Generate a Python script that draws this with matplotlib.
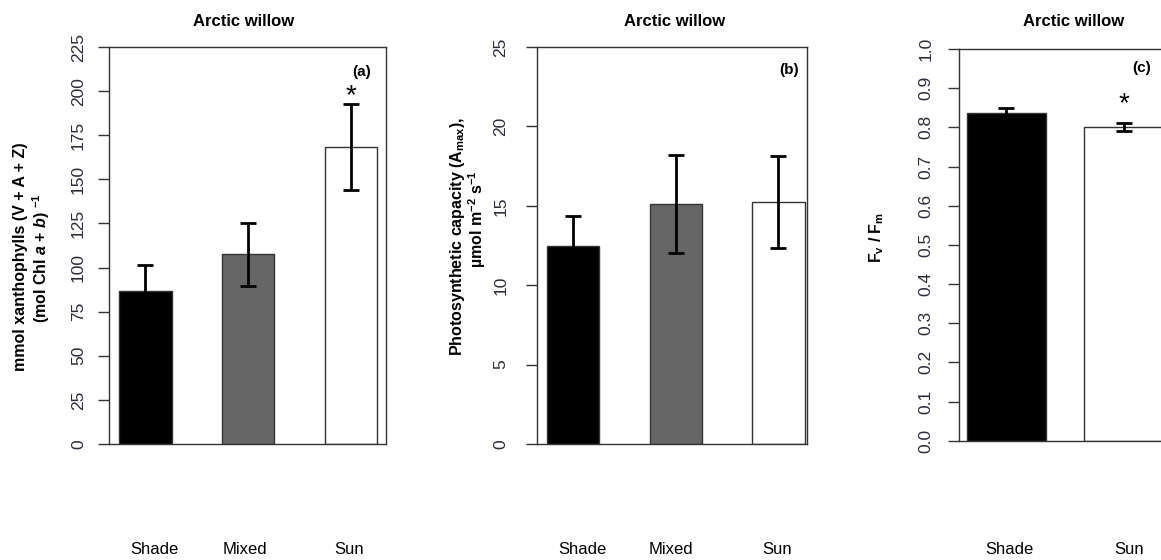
import matplotlib
matplotlib.use("Agg")
import matplotlib.pyplot as plt
import matplotlib.transforms as mtransforms

plt.rcParams['font.family'] = ['Liberation Sans', 'DejaVu Sans']
plt.rcParams['mathtext.fontset'] = 'custom'
plt.rcParams['mathtext.rm'] = 'Liberation Sans:bold'
plt.rcParams['mathtext.it'] = 'Liberation Sans:italic:bold'
plt.rcParams['mathtext.bf'] = 'Liberation Sans:bold'

# --- data ---
groups_abc = ['Shade', 'Mixed', 'Sun']
groups_c = ['Shade', 'Sun']

xanth_mean = [86.7, 107.5, 168.5]
xanth_err = [15.0, 18.0, 24.3]

amax_mean = [12.45, 15.1, 15.25]
amax_err = [1.9, 3.1, 2.9]

fvfm_mean = [0.837, 0.801]
fvfm_err = [0.013, 0.011]

bar_colors_abc = ['#000000', '#666666', '#ffffff']
bar_colors_c = ['#000000', '#ffffff']

TICK_COLOR = '#2b2b3b'
W, H = 1161, 560


def px_axes(fig, left, top, right, bottom):
    """Add axes given pixel edges (origin top-left)."""
    return fig.add_axes([left / W, 1 - bottom / H, (right - left) / W, (bottom - top) / H])


def draw_panel(ax, means, errs, colors, width, xlim, ylim, yticks, yticklabels, pad):
    x = list(range(len(means)))
    ax.bar(x, means, width=width, color=colors, edgecolor='#333333', linewidth=1.0, zorder=2)
    ax.errorbar(x, means, yerr=errs, fmt='none', ecolor='black', elinewidth=2.0,
                capsize=6, capthick=2.0, zorder=3)
    ax.set_xlim(*xlim)
    ax.set_ylim(*ylim)
    ax.set_xticks([])
    ax.set_yticks(yticks)
    ax.set_yticklabels(yticklabels, rotation=90, va='center', fontsize=12.5, color=TICK_COLOR)
    ax.tick_params(axis='y', direction='out', length=8, width=1.0, color='#333333', pad=pad)
    for sp in ax.spines.values():
        sp.set_color('#333333')
        sp.set_linewidth(1.0)


def label_below(ax, xs, names, y_axes):
    trans = mtransforms.blended_transform_factory(ax.transData, ax.transAxes)
    for xv, name in zip(xs, names):
        ax.text(xv, y_axes, name, transform=trans, ha='center', va='center',
                fontsize=12, clip_on=False)


fig = plt.figure(figsize=(W / 100, H / 100), dpi=100)

# --- Panel (a): xanthophyll pool ---
ax_a = px_axes(fig, 109, 47, 386, 444)
draw_panel(ax_a, xanth_mean, xanth_err, bar_colors_abc, 0.51, (-0.355, 2.34), (0, 225),
           list(range(0, 226, 25)), [str(v) for v in range(0, 226, 25)], 8.5)
ax_a.text(2, 197, '*', ha='center', va='center', fontsize=20)
ax_a.text(0.912, 0.937, '(a)', transform=ax_a.transAxes, ha='center', va='center',
          fontsize=11, fontweight='bold')
label_below(ax_a, [0.085, 0.97, 1.98], groups_abc, -0.266)

# --- Panel (b): photosynthetic capacity ---
ax_b = px_axes(fig, 536.7, 47, 806.7, 444)
draw_panel(ax_b, amax_mean, amax_err, bar_colors_abc, 0.51, (-0.353, 2.275), (0, 25),
           list(range(0, 26, 5)), [str(v) for v in range(0, 26, 5)], 12.5)
ax_b.text(0.934, 0.942, '(b)', transform=ax_b.transAxes, ha='center', va='center',
          fontsize=11, fontweight='bold')
label_below(ax_b, [0.09, 0.95, 1.99], groups_abc, -0.266)

# --- Panel (c): Fv/Fm (right edge runs off the figure) ---
ax_c = px_axes(fig, 959.3, 49, 1200, 440.7)
fv_ticks = [i / 10 for i in range(11)]
draw_panel(ax_c, fvfm_mean, fvfm_err, bar_colors_c, 0.673, (-0.4, 1.652), (0, 1.0),
           fv_ticks, ['%.1f' % v for v in fv_ticks], 10.5)
ax_c.text(1, 0.86, '*', ha='center', va='center', fontsize=20)
ax_c.text(0.759, 0.951, '(c)', transform=ax_c.transAxes, ha='center', va='center',
          fontsize=11, fontweight='bold')
label_below(ax_c, [0.03, 1.05], groups_c, -0.279)

# --- Titles ---
for xc in (244, 675, 1074):
    fig.text(xc / W, 1 - 21 / H, 'Arctic willow', ha='center', va='center',
             fontsize=12, fontweight='bold')

# --- Y axis labels ---
ylab_kw = dict(rotation=90, ha='center', va='center', fontsize=11.5, fontweight='bold')
fig.text(21 / W, 1 - 256.5 / H, 'mmol xanthophylls (V + A + Z)', **ylab_kw)
fig.text(41 / W, 1 - 258 / H, r'(mol Chl $\mathit{a}$ + $\mathit{b}$) $^{-1}$', **ylab_kw)
fig.text(458 / W, 1 - 236 / H, r'Photosynthetic capacity (A$_{\mathrm{max}}$),', **ylab_kw)
fig.text(477 / W, 1 - 219.5 / H, r'µmol m$^{-2}$ s$^{-1}$', **ylab_kw)
fig.text(876.7 / W, 1 - 237.5 / H, r'F$_{\mathrm{v}}$ / F$_{\mathrm{m}}$', **ylab_kw)

fig.savefig('out.png', dpi=100)
